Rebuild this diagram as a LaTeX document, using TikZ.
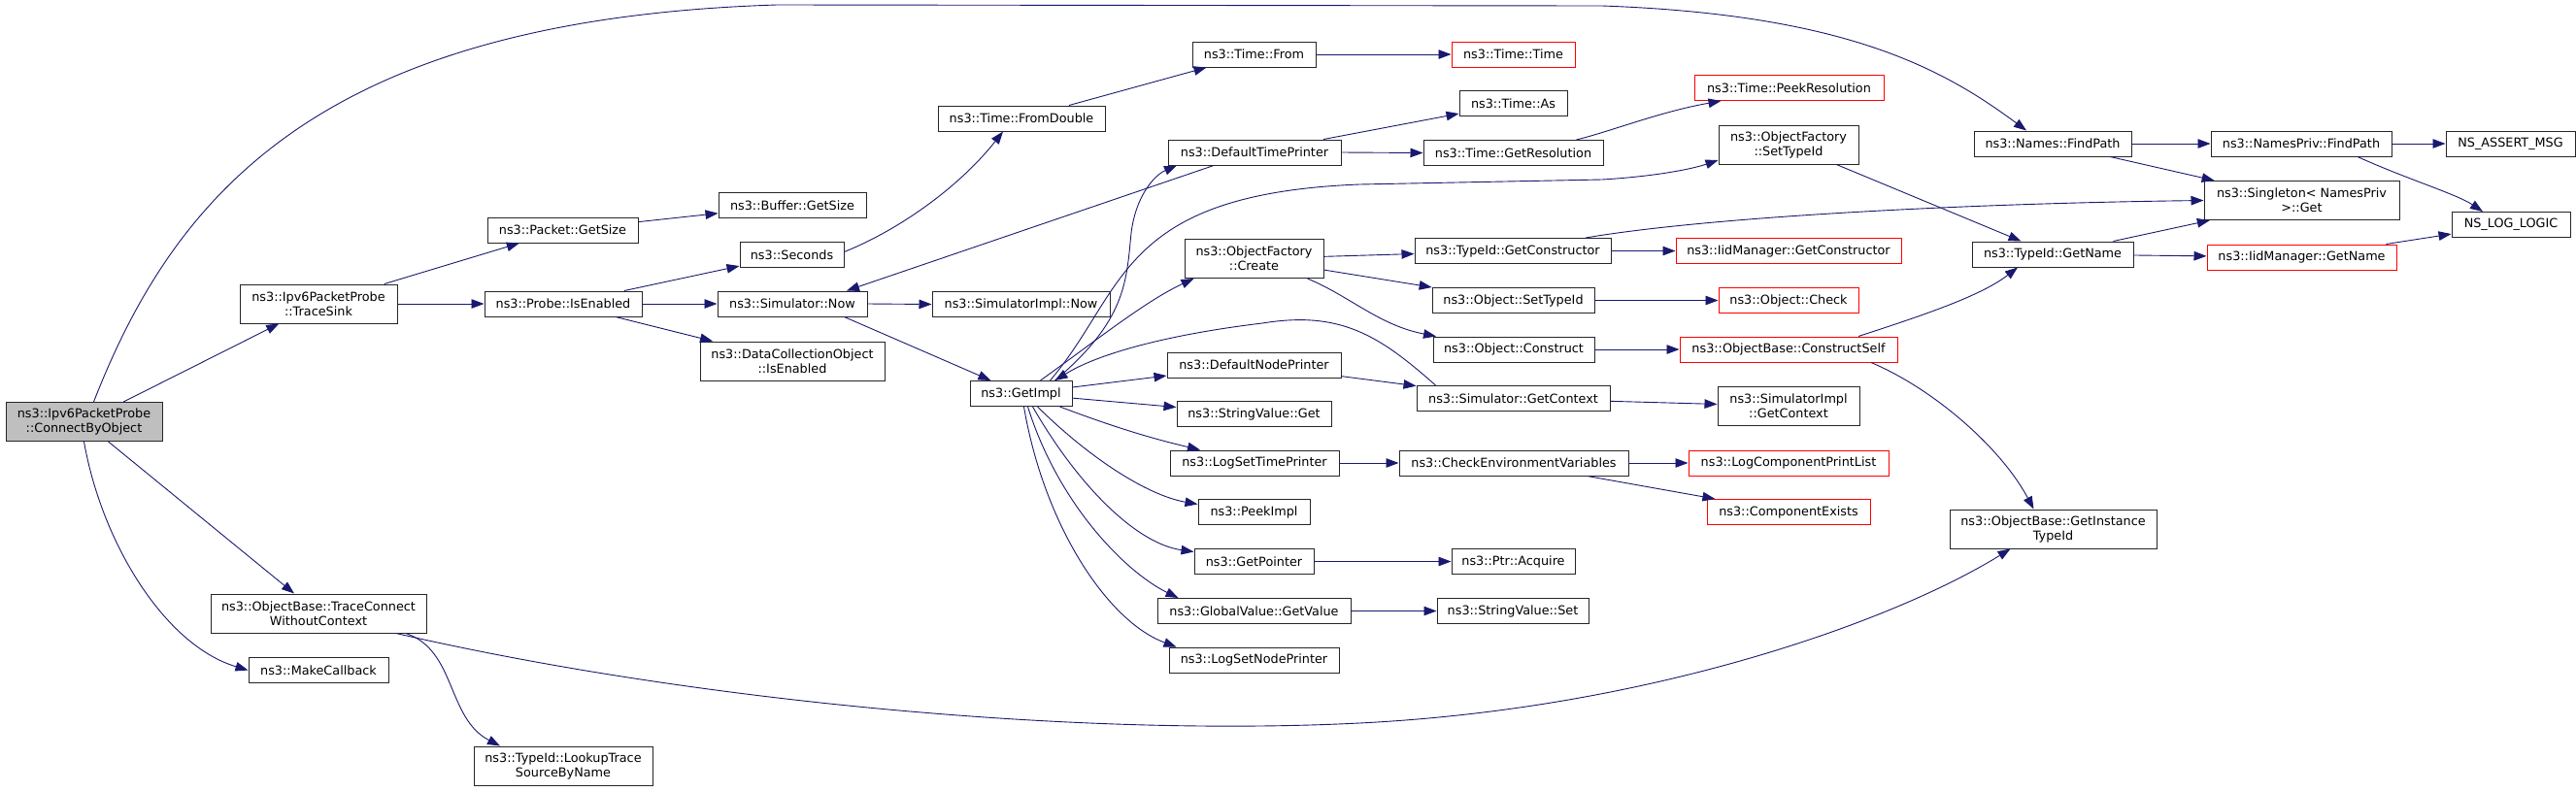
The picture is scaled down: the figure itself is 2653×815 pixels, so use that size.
\documentclass[tikz,border=0pt]{standalone}
\usepackage{fontspec}
\setmainfont{DejaVu Sans}
\usetikzlibrary{arrows.meta}
\definecolor{edgeblue}{HTML}{191970}
\definecolor{rootgray}{HTML}{BFBFBF}
\definecolor{boxline}{HTML}{262626}
\tikzset{
  fn/.style={draw=boxline, line width=1pt, fill=white, inner sep=0pt,
    minimum height=26pt, align=center, font=\fontsize{12.8}{15}\selectfont},
  fntwo/.style={fn, minimum height=40pt},
  fnred/.style={fn, draw=red},
  call/.style={edgeblue, line width=0.9pt, -{Triangle[length=13pt,width=9.5pt]}}
}
\begin{document}
\begin{tikzpicture}[x=1pt,y=-1pt]
    \useasboundingbox (0,0) rectangle (2653,815);
    % column 1 and 2
    \node[fntwo, fill=rootgray, minimum width=161pt] (cbo) at (86.5,434.5) {ns3::Ipv6PacketProbe\\::ConnectByObject};
    \node[fntwo, minimum width=162pt] (tsink) at (328,313) {ns3::Ipv6PacketProbe\\::TraceSink};
    \node[fntwo, minimum width=222pt] (tcwc) at (328,632) {ns3::ObjectBase::TraceConnect\\WithoutContext};
    \node[fn, minimum width=144pt] (mkcb) at (328,690.5) {ns3::MakeCallback};
    % column 3 and 4
    \node[fn, minimum width=155pt] (pktsize) at (579.5,237) {ns3::Packet::GetSize};
    \node[fn, minimum width=162pt] (probe) at (580,313) {ns3::Probe::IsEnabled};
    \node[fntwo, minimum width=184pt] (lookup) at (580,789) {ns3::TypeId::LookupTrace\\SourceByName};
    \node[fn, minimum width=152pt] (bufsize) at (816,211.5) {ns3::Buffer::GetSize};
    \node[fn, minimum width=107pt] (seconds) at (815.5,262.5) {ns3::Seconds};
    \node[fn, minimum width=154pt] (simnow) at (816,313) {ns3::Simulator::Now};
    \node[fntwo, minimum width=190pt] (dco) at (816,372) {ns3::DataCollectionObject\\::IsEnabled};
    % column 5 and 6
    \node[fn, minimum width=172pt] (fromdbl) at (1052,122) {ns3::Time::FromDouble};
    \node[fn, minimum width=183pt] (simimplnow) at (1051.5,313.5) {ns3::SimulatorImpl::Now};
    \node[fn, minimum width=105pt] (getimpl) at (1051.5,405.5) {ns3::GetImpl};
    \node[fn, minimum width=127pt] (tfrom) at (1291.5,56) {ns3::Time::From};
    \node[fn, minimum width=178pt] (dtp) at (1292,157) {ns3::DefaultTimePrinter};
    \node[fntwo, minimum width=143pt] (ofcreate) at (1291.5,266.5) {ns3::ObjectFactory\\::Create};
    \node[fn, minimum width=179pt] (dnp) at (1291.5,376) {ns3::DefaultNodePrinter};
    \node[fn, minimum width=159pt] (svget) at (1291.5,426.5) {ns3::StringValue::Get};
    \node[fn, minimum width=174pt] (logstp) at (1292,477) {ns3::LogSetTimePrinter};
    \node[fn, minimum width=115pt] (peekimpl) at (1291.5,527.5) {ns3::PeekImpl};
    \node[fn, minimum width=123pt] (getptr) at (1291.5,578.5) {ns3::GetPointer};
    \node[fn, minimum width=199pt] (gvget) at (1291.5,629.5) {ns3::GlobalValue::GetValue};
    \node[fn, minimum width=175pt] (lsnp) at (1291.5,680) {ns3::LogSetNodePrinter};
    % column 7
    \node[fnred, minimum width=127pt] (ttime) at (1558.5,56) {ns3::Time::Time};
    \node[fn, minimum width=111pt] (tas) at (1558.5,106.5) {ns3::Time::As};
    \node[fn, minimum width=185pt] (getres) at (1558.5,157.5) {ns3::Time::GetResolution};
    \node[fn, minimum width=202pt] (tgetctor) at (1558,258.5) {ns3::TypeId::GetConstructor};
    \node[fn, minimum width=167pt] (osettid) at (1558.5,309.5) {ns3::Object::SetTypeId};
    \node[fn, minimum width=166pt] (oconstruct) at (1559,360) {ns3::Object::Construct};
    \node[fn, minimum width=199pt] (simgetctx) at (1558.5,410.5) {ns3::Simulator::GetContext};
    \node[fn, minimum width=236pt] (checkenv) at (1559,477) {ns3::CheckEnvironmentVariables};
    \node[fn, minimum width=127pt] (acquire) at (1558.5,578.5) {ns3::Ptr::Acquire};
    \node[fn, minimum width=156pt] (svset) at (1558,629.5) {ns3::StringValue::Set};
    % column 8
    \node[fnred, minimum width=195pt] (peekres) at (1842.5,90.5) {ns3::Time::PeekResolution};
    \node[fntwo, minimum width=144pt] (ofsettid) at (1842,149) {ns3::ObjectFactory\\::SetTypeId};
    \node[fnred, minimum width=232pt] (iidgetctor) at (1842,258.5) {ns3::IidManager::GetConstructor};
    \node[fnred, minimum width=144pt] (ocheck) at (1842,309.5) {ns3::Object::Check};
    \node[fnred, minimum width=224pt] (cself) at (1842,360) {ns3::ObjectBase::ConstructSelf};
    \node[fntwo, minimum width=146pt] (simimplctx) at (1842,418.5) {ns3::SimulatorImpl\\::GetContext};
    \node[fnred, minimum width=206pt] (lcpl) at (1842,477) {ns3::LogComponentPrintList};
    \node[fnred, minimum width=168pt] (compexists) at (1842,527.5) {ns3::ComponentExists};
    % column 9 to 11
    \node[fn, minimum width=162pt] (namesfp) at (2114,148) {ns3::Names::FindPath};
    \node[fn, minimum width=166pt] (typeidname) at (2114,262) {ns3::TypeId::GetName};
    \node[fntwo, minimum width=213pt] (ginst) at (2114.5,545) {ns3::ObjectBase::GetInstance\\TypeId};
    \node[fn, minimum width=186pt] (npfp) at (2370,148) {ns3::NamesPriv::FindPath};
    \node[fntwo, minimum width=201pt] (singleton) at (2370.5,206.5) {ns3::Singleton< NamesPriv\\ >::Get};
    \node[fnred, minimum width=195pt] (iidname) at (2370.5,265) {ns3::IidManager::GetName};
    \node[fn, minimum width=133pt] (assert) at (2585.5,148) {NS\_ASSERT\_MSG};
    \node[fn, minimum width=122pt] (loglogic) at (2586,231.5) {NS\_LOG\_LOGIC};

    % calls from the root
    \draw[call] ([xshift=10pt]cbo.north) .. controls (180,200) and (330,20) .. (800,5)
        -- (1650,6) .. controls (1900,15) and (2000,70) .. ([xshift=-27pt]namesfp.north);
    \draw[call] (cbo) -- (tsink);
    \draw[call] (cbo) -- (tcwc);
    \draw[call] (cbo.south) .. controls (105,560) and (170,665) .. (mkcb.west);
    \draw[call] (tsink) -- (pktsize);
    \draw[call] (tsink.east) -- (probe.west);
    \draw[call] ([xshift=80pt]tcwc.south) .. controls (700,720) and (1100,760) .. (1400,745)
        .. controls (1700,730) and (1950,640) .. ([xshift=-44pt]ginst.south);
    \draw[call] ([xshift=90pt]tcwc.south) .. controls (470,670) and (460,740) .. ([xshift=-65pt]lookup.north);
    \draw[call] (pktsize) -- (bufsize);
    \draw[call] (probe) -- (seconds);
    \draw[call] (probe.east) -- (simnow.west);
    \draw[call] (probe) -- (dco);
    \draw[call] ([yshift=3pt]seconds.east) .. controls (930,235) and (990,190) .. ([xshift=-19pt]fromdbl.south);
    \draw[call] (fromdbl) -- (tfrom);
    \draw[call] (tfrom.east) -- (ttime.west);
    \draw[call] (simnow.east) -- (simimplnow.west);
    \draw[call] ([xshift=-24pt]simnow.south east) -- (getimpl);
    \draw[call] ([xshift=-42pt]dtp.south) -- ([xshift=56pt]simnow.north);
    \draw[call] (dtp) -- (tas);
    \draw[call] (dtp.east) -- (getres.west);
    \draw[call] ([xshift=65pt]getres.north) .. controls (1660,135) and (1710,115) .. ([xshift=-70pt]peekres.south);
    % calls from GetImpl
    \draw[call] ([xshift=35pt]getimpl.north) .. controls (1160,330) and (1160,290) .. (1165,240)
        .. controls (1170,200) and (1190,180) .. ([xshift=-80pt]dtp.south);
    \draw[call] ([xshift=30pt]getimpl.north) .. controls (1160,300) and (1150,200) .. (1400,190)
        -- (1650,185) .. controls (1700,182) and (1740,175) .. ([yshift=-16pt]ofsettid.west);
    \draw[call] ([xshift=20pt]getimpl.north) .. controls (1130,350) and (1180,310) .. ([xshift=-62pt]ofcreate.south);
    \draw[call] (getimpl) -- (dnp);
    \draw[call] (getimpl) -- (svget);
    \draw[call] ([xshift=40pt]getimpl.south) .. controls (1160,445) and (1200,455) .. ([xshift=-56pt]logstp.north);
    \draw[call] ([xshift=17pt]getimpl.south) .. controls (1120,470) and (1180,510) .. ([yshift=8pt]peekimpl.west);
    \draw[call] ([xshift=12pt]getimpl.south) .. controls (1110,500) and (1170,560) .. ([yshift=10pt]getptr.west);
    \draw[call] ([xshift=7pt]getimpl.south) .. controls (1090,520) and (1160,590) .. ([xshift=-78pt]gvget.north);
    \draw[call] ([xshift=3pt]getimpl.south) .. controls (1075,540) and (1140,640) .. ([xshift=-80pt]lsnp.north);
    \draw[call] ([xshift=-80pt]simgetctx.north) .. controls (1420,345) and (1380,320) .. (1300,333)
        .. controls (1200,345) and (1130,365) .. ([xshift=35pt]getimpl.north);
    \draw[call] (dnp) -- (simgetctx);
    % column 6 onwards
    \draw[call] (ofcreate) -- (tgetctor);
    \draw[call] (ofcreate) -- (osettid);
    \draw[call] ([xshift=55pt]ofcreate.south) .. controls (1390,305) and (1420,335) .. ([xshift=-80pt]oconstruct.north);
    \draw[call] (tgetctor.east) -- (iidgetctor.west);
    \draw[call] ([xshift=75pt]tgetctor.north) .. controls (1750,225) and (2000,210) .. (singleton.west);
    \draw[call] (osettid.east) -- (ocheck.west);
    \draw[call] (oconstruct.east) -- (cself.west);
    \draw[call] (simgetctx) -- (simimplctx);
    \draw[call] (logstp.east) -- (checkenv.west);
    \draw[call] (checkenv.east) -- (lcpl.west);
    \draw[call] (checkenv) -- (compexists);
    \draw[call] (getptr.east) -- (acquire.west);
    \draw[call] (gvget.east) -- (svset.west);
    \draw[call] (ofsettid) -- (typeidname);
    \draw[call] ([xshift=72pt]cself.north) .. controls (1980,325) and (2040,305) .. ([xshift=-36pt]typeidname.south);
    \draw[call] ([xshift=85pt]cself.south) .. controls (1990,400) and (2060,460) .. ([xshift=-20pt]ginst.north);
    \draw[call] (namesfp.east) -- (npfp.west);
    \draw[call] (namesfp) -- (singleton);
    \draw[call] (npfp.east) -- (assert.west);
    \draw[call] ([xshift=58pt]npfp.south) .. controls (2480,185) and (2530,200) .. ([xshift=-29pt]loglogic.north);
    \draw[call] (typeidname) -- (singleton);
    \draw[call] (typeidname) -- (iidname);
    \draw[call] (iidname) -- (loglogic);
\end{tikzpicture}
\end{document}
